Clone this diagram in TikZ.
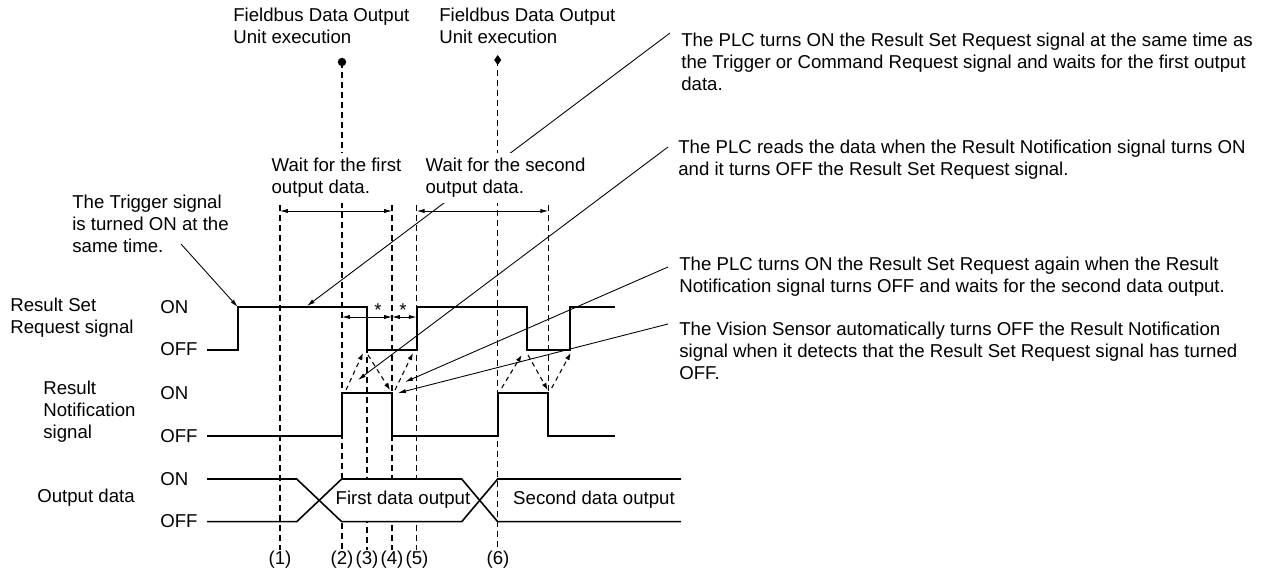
\documentclass[tikz,border=0pt]{standalone}
\usepackage{fontspec}
\setmainfont{Liberation Sans}
\usetikzlibrary{arrows.meta}

\begin{document}
\begin{tikzpicture}[x=0.02cm, y=-0.02cm,
		every node/.style={inner sep=0pt, font=\fontsize{10.6}{12.5}\selectfont},
		txt/.style={anchor=west, align=left},
		masked/.style={txt, fill=white, inner sep=3pt},
		wave/.style={line width=1.1pt, line join=miter},
		dataline/.style={line width=0.9pt, line join=miter},
		guide/.style={line width=0.8pt, dash pattern=on 3.4pt off 2.3pt},
		cause/.style={line width=0.6pt, dash pattern=on 2.6pt off 2.2pt, -{Latex[length=4pt,width=2.8pt]}},
		callout/.style={line width=0.5pt, -{Latex[length=4.5pt,width=2.4pt]}},
		dimarrow/.style={line width=0.5pt, {Latex[length=4.5pt,width=2.4pt]}-{Latex[length=4.5pt,width=2.4pt]}}]

		\useasboundingbox (0,0) rectangle (1269,571);

		% time markers
		\draw[guide] (280,205) -- (280,550);
		\draw[guide] (342,62) -- (342,550);
		\draw[guide] (367,307) -- (367,550);
		\draw[guide] (392,205) -- (392,550);
		\draw[guide] (416.7,205) -- (416.7,550);
		\draw[guide] (497.7,60) -- (497.7,550);
		\draw[guide] (548.3,205) -- (548.3,393);

		\fill (342,62) circle (2.4pt);
		\fill (497.7,55) -- (501.2,60) -- (497.7,65) -- (494.2,60) -- cycle;

		% callout ends
		\coordinate (c1from) at (670,33);
		\coordinate (c1to) at (307,306);
		\coordinate (c2from) at (668,147);
		\coordinate (c2to) at (358,380);
		\coordinate (c3from) at (668,267);
		\coordinate (c3to) at (405,382);
		\coordinate (c4from) at (668,324);
		\coordinate (c4to) at (398,393);
		\coordinate (trigfrom) at (181,244);
		\coordinate (trigto) at (237.7,307);

		\draw[callout] (c1from) -- (c1to);
		\draw[callout] (c2from) -- (c2to);
		\draw[callout] (c3from) -- (c3to);
		\draw[callout] (c4from) -- (c4to);
		\draw[callout] (trigfrom) -- (trigto);

		% texts
		\node[txt] (unit1) at (233,26) {Fieldbus Data Output\\Unit execution};
		\node[txt] (unit2) at (439,26) {Fieldbus Data Output\\Unit execution};
		\node[masked] (wait1) at (266,178) {Wait for the first\\output data.};
		\node[masked] (wait2) at (420,178) {Wait for the second\\output data.};
		\node[txt] (trig) at (72,224) {The Trigger signal\\is turned ON at the\\same time.};

		\node[txt] (note1) at (681,62) {The PLC turns ON the Result Set Request signal at the same time as\\the Trigger or Command Request signal and waits for the first output\\data.};
		\node[txt] (note2) at (678,160) {The PLC reads the data when the Result Notification signal turns ON\\and it turns OFF the Result Set Request signal.};
		\node[txt] (note3) at (679,277) {The PLC turns ON the Result Set Request again when the Result\\Notification signal turns OFF and waits for the second data output.};
		\node[txt] (note4) at (679,351) {The Vision Sensor automatically turns OFF the Result Notification\\signal when it detects that the Result Set Request signal has turned\\OFF.};

		\node[txt] (rsr) at (10,318) {Result Set\\Request signal};
		\node[txt] (rn) at (43,412) {Result\\Notification\\signal};
		\node[txt] (out) at (37,498) {Output data};

		\node[txt] (rsron) at (160,307) {ON};
		\node[txt] (rsroff) at (160,349) {OFF};
		\node[txt] (rnon) at (160,393) {ON};
		\node[txt] (rnoff) at (160,436) {OFF};
		\node[txt] (outon) at (160,479) {ON};
		\node[txt] (outoff) at (160,521) {OFF};

		% wait spans
		\draw[dimarrow] (280,211) -- (392,211);
		\draw[dimarrow] (416.7,211) -- (548.3,211);
		\draw[dimarrow] (342,317) -- (392,317);
		\draw[dimarrow] (392,317) -- (416.7,317);
		\node (star1) at (378,310) {*};
		\node (star2) at (403,310) {*};

		% signals
		\draw[wave] (207,350) -- (237.7,350) -- (237.7,307) -- (367,307) -- (367,350) -- (416.7,350)
			-- (416.7,307) -- (526.7,307) -- (526.7,350) -- (570,350) -- (570,307) -- (615,307);
		\draw[wave] (207,436) -- (342,436) -- (342,393) -- (392,393) -- (392,436) -- (497.7,436)
			-- (497.7,393) -- (548.3,393) -- (548.3,436) -- (615,436);
		\fill[white] (319.2,500) -- (341.7,479) -- (461.7,479) -- (479.7,500) -- (461.7,521.7) -- (341.7,521.7) -- cycle;
		\draw[dataline] (207,479) -- (296.7,479) -- (341.7,521.7) -- (461.7,521.7) -- (497.7,479) -- (681,479);
		\draw[dataline] (207,521.7) -- (296.7,521.7) -- (341.7,479) -- (461.7,479) -- (497.7,521.7) -- (681,521.7);
		\node (data1) at (403,500) {First data output};
		\node (data2) at (594,500) {Second data output};

		% causes
		\draw[cause] (346,390) -- (363,353);
		\draw[cause] (368,355) -- (390,390);
		\draw[cause] (395,390) -- (413,353);
		\draw[cause] (501.7,388) -- (521.7,355);
		\draw[cause] (528,355) -- (547.7,390);
		\draw[cause] (551.7,388) -- (570.7,353);

		\node (t1) at (280,560) {(1)};
		\node (t2) at (342,560) {(2)};
		\node (t3) at (367,560) {(3)};
		\node (t4) at (392,560) {(4)};
		\node (t5) at (417,560) {(5)};
		\node (t6) at (498,560) {(6)};
	\end{tikzpicture}
\end{document}
